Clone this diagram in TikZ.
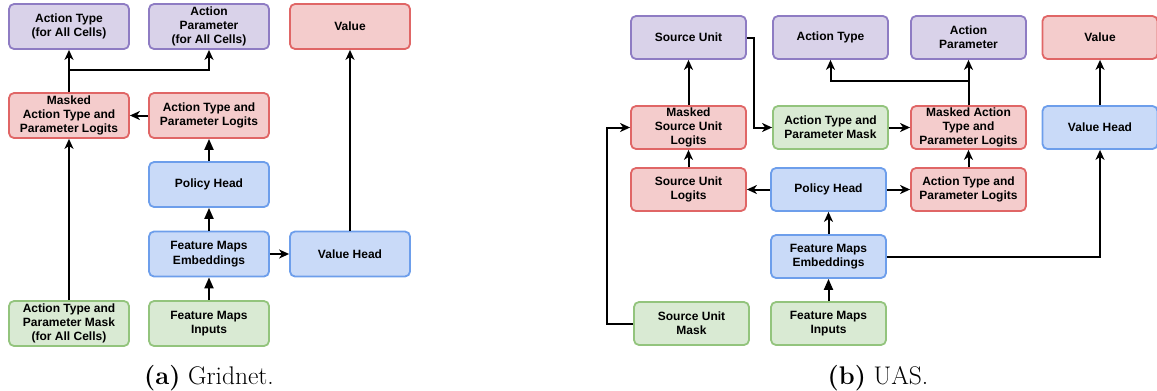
\documentclass[tikz,border=0pt]{standalone}
\usepackage{fontspec}
\newfontfamily\boxfont{Liberation Sans}
\usetikzlibrary{positioning, arrows.meta}

\definecolor{purpfill}{HTML}{D9D2E9}
\definecolor{purpline}{HTML}{8E7CC3}
\definecolor{redfill}{HTML}{F4CCCC}
\definecolor{redline}{HTML}{E06666}
\definecolor{bluefill}{HTML}{C9DAF8}
\definecolor{blueline}{HTML}{6D9EEB}
\definecolor{greenfill}{HTML}{D9EAD3}
\definecolor{greenline}{HTML}{93C47D}

\begin{document}
\begin{tikzpicture}[x=1pt, y=1pt, on grid, line width=2pt,
   box/.style={rectangle, rounded corners=5pt, draw, line width=1.8pt,
     minimum width=120pt, minimum height=45pt, inner sep=1pt, align=center,
     font=\boxfont\bfseries\fontsize{12}{14.3}\selectfont},
   narrow/.style={minimum width=115pt, minimum height=43pt},
   purp/.style={box, fill=purpfill, draw=purpline},
   red/.style={box, fill=redfill, draw=redline},
   blue/.style={box, fill=bluefill, draw=blueline},
   green/.style={box, fill=greenfill, draw=greenline},
   arr/.style={-{Stealth[length=10pt, width=9pt, inset=3pt]}},
   blk/.style={-{Triangle[length=11pt, width=9pt]}},
   caption/.style={font=\fontsize{25.5}{30}\selectfont}]
   \useasboundingbox (0,0) rectangle (1157,-391);

   % (a) Gridnet
   \node[purp] (at) at (69,-26.5) {Action Type\\(for All Cells)};
   \node[purp] (ap) [right=140pt of at] {Action\\Parameter\\(for All Cells)};
   \node[red] (val) [right=141pt of ap] {Value};
   \node[red] (mlog) [below=89pt of at] {Masked\\Action Type and\\Parameter Logits};
   \node[red] (log) [right=140pt of mlog] {Action Type and\\Parameter Logits};
   \node[blue] (ph) [below=69pt of log] {Policy Head};
   \node[blue] (emb) [below=69.5pt of ph] {Feature Maps\\Embeddings};
   \node[blue] (vh) [right=141pt of emb] {Value Head};
   \node[green] (in) [below=69.5pt of emb] {Feature Maps\\Inputs};
   \node[green] (mask) [left=140pt of in] {Action Type and\\Parameter Mask\\(for All Cells)};
   \coordinate (split) at ([yshift=22pt]mlog.north);

   \draw[arr] (mlog) -- (at);
   \draw[arr] (split) -| (ap);
   \draw[arr] (log) -- (mlog);
   \draw[blk] (ph) -- (log);
   \draw[blk] (emb) -- (ph);
   \draw[blk] (in) -- (emb);
   \draw[arr] (emb) -- (vh);
   \draw[arr] (vh) -- (val);
   \draw[arr] (mask) -- (mlog);

   % (b) UAS
   \node[purp, narrow] (su) at (688.5,-37.5) {Source Unit};
   \node[purp, narrow] (at2) [right=142pt of su] {Action Type};
   \node[purp, narrow] (ap2) [right=138pt of at2] {Action\\Parameter};
   \node[red, narrow] (val2) [right=131.5pt of ap2] {Value};
   \node[red, narrow] (msu) [below=90pt of su] {Masked\\Source Unit\\Logits};
   \node[green, narrow] (amask) [right=142pt of msu] {Action Type and\\Parameter Mask};
   \node[red, narrow] (mlog2) [right=138pt of amask] {Masked Action\\Type and\\Parameter Logits};
   \node[blue, narrow] (vh2) [right=131.5pt of mlog2] {Value Head};
   \node[red, narrow] (sul) [below=62pt of msu] {Source Unit\\Logits};
   \node[blue, narrow] (ph2) [right=140pt of sul] {Policy Head};
   \node[red, narrow] (log2) [right=140pt of ph2] {Action Type and\\Parameter Logits};
   \node[blue, narrow] (emb2) [below=67pt of ph2] {Feature Maps\\Embeddings};
   \node[green, narrow] (in2) [below=67pt of emb2] {Feature Maps\\Inputs};
   \node[green, narrow] (sumask) [left=137pt of in2] {Source Unit\\Mask};
   \coordinate (split2) at ([yshift=24pt]mlog2.north);

   \draw[arr] (msu) -- (su);
   \draw[arr] (su.east) -- ++(7pt,0) |- (amask.west);
   \draw[arr] (amask) -- (mlog2);
   \draw[arr] (mlog2) -- (ap2);
   \draw[arr] (split2) -| (at2);
   \draw[arr] (sul) -- (msu);
   \draw[arr] (ph2) -- (sul);
   \draw[arr] (ph2) -- (log2);
   \draw[arr] (log2) -- (mlog2);
   \draw[arr] (emb2) -- (ph2);
   \draw[blk] (in2) -- (emb2);
   \draw[arr] (emb2) -| (vh2);
   \draw[arr] (vh2) -- (val2);
   \draw[arr] (sumask.west) -- ++(-26pt,0) |- (msu.west);

   % captions
   \node[caption] (capa) at (209,-378) {\textbf{(a)} Gridnet.};
   \node[caption] (capb) at (878,-378) {\textbf{(b)} UAS.};
\end{tikzpicture}
\end{document}
